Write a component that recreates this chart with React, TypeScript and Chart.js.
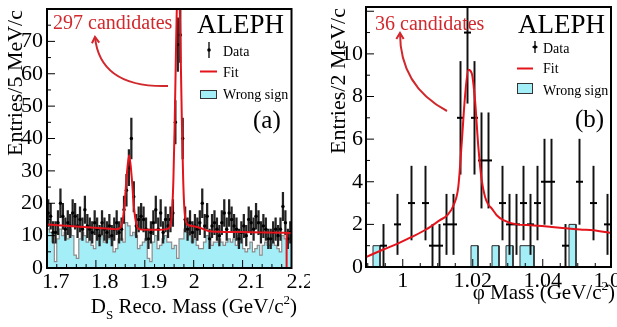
import React, { useEffect, useRef } from 'react';
import { Chart, registerables } from 'chart.js';

Chart.register(...registerables);

// ---------------- Panel (a): D_s reconstructed mass ----------------
const dsMassMin = 1.7;
const dsMassMax = 2.2;
const dsBinWidth = 0.005;
const dsCounts = [
  17, 16, 11, 11, 14, 20, 16, 12, 14, 13,
  17, 16, 13, 15, 12, 18, 13, 12, 11, 14,
  12, 10, 14, 12, 11, 13, 10, 12, 14, 11,
  12, 18, 24, 31, 40, 22, 13, 15, 16, 15,
  12, 9, 11, 14, 18, 12, 17, 11, 15, 13,
  15, 17, 45, 69, 72, 40, 15, 12, 14, 11,
  13, 12, 14, 20, 13, 16, 9, 13, 14, 12,
  10, 14, 17, 12, 17, 15, 13, 12, 9, 11,
  13, 10, 15, 14, 12, 16, 14, 11, 13, 12,
  9, 9, 11, 12, 10, 12, 19, 14, 9, 11,
];
const dsWrongSign = [
  12, 11, 8, 2, 9, 12, 10, 11, 9, 12,
  10, 4, 3, 9, 11, 10, 8, 13, 7, 6,
  11, 9, 10, 8, 10, 9, 10, 5, 6, 9,
  9, 8, 14, 13, 10, 11, 10, 6, 7, 8,
  9, 3, 2, 8, 10, 6, 7, 9, 10, 8,
  8, 6, 7, 3, 9, 9, 12, 11, 10, 8,
  9, 7, 6, 6, 8, 10, 9, 7, 8, 8,
  9, 8, 7, 8, 9, 8, 9, 7, 10, 9,
  6, 5, 6, 8, 5, 6, 7, 4, 7, 8,
  7, 7, 8, 7, 6, 5, 10, 9, 10, 9,
];
const dsFitMass = [
  1.7, 1.73, 1.76, 1.79, 1.82, 1.84, 1.848, 1.853, 1.858, 1.863, 1.868, 1.873, 1.878, 1.883, 1.888,
  1.9, 1.93, 1.945, 1.95, 1.9535, 1.956, 1.9585, 1.961, 1.9635, 1.966, 1.9685, 1.971, 1.9735,
  1.976, 1.9785, 1.981, 1.9835, 1.986, 1.99, 2.0, 2.01, 2.02, 2.03, 2.05, 2.1, 2.15, 2.2,
];
const dsFitValue = [
  13.4, 13.1, 12.8, 12.5, 12.2, 12.0, 12.2, 13.4, 18.5, 28.5, 34.8, 28.5, 18.5, 13.4, 12.0,
  11.8, 11.8, 12.0, 12.4, 14.0, 18.1, 27.3, 43.6, 65, 84.2, 92, 84.2, 65,
  43.6, 27.3, 18.1, 14.8, 13.6, 13.2, 12.9, 12.5, 12.0, 11.4, 11.2, 11.1, 11.0, 10.8,
];
const dsFitEndMass = [2.19, 2.19];
const dsFitEndValue = [0, 10.7];
const dsXTicks = [1.7, 1.8, 1.9, 2.0, 2.1, 2.2];
const dsYTicks = [0, 10, 20, 30, 40, 50, 60, 70];
const dsYMax = 80;

// ---------------- Panel (b): phi mass ----------------
const phiMassMin = 0.9895;
const phiMassMax = 1.0595;
const phiBinWidth = 0.002;
const phiCounts = [
  0, 0, 1, 0, 2, 0, 3, 0, 3, 1,
  1, 2, 2, 7, 11, 7, 5, 5, 0, 3,
  2, 2, 3, 2, 3, 4, 4, 0, 1, 0,
  4, 0, 3, 0, 2,
];
const phiWrongSign = [
  0, 1, 0, 0, 0, 0, 0, 0, 0, 0,
  0, 0, 0, 0, 0, 1, 0, 0, 1, 0,
  1, 0, 1, 1, 0, 0, 0, 0, 0, 2,
  0, 0, 0, 0, 0,
];
const phiFitMass = [
  0.9895, 0.99444, 0.99856, 1.00256, 1.00664, 1.01064, 1.01273, 1.01473, 1.01587, 1.01684,
  1.01779, 1.01873, 1.0197, 1.02064, 1.02159, 1.02256, 1.0235, 1.02436, 1.02541, 1.02684,
  1.02873, 1.03256, 1.03656, 1.04256, 1.04664, 1.05064, 1.05444, 1.0595,
];
const phiFitValue = [
  0.47, 0.82, 1.1, 1.41, 1.76, 2.2, 2.43, 2.98, 3.76, 5.8,
  8.0, 9.25, 9.1, 7.84, 5.65, 4.08, 3.3, 2.95, 2.75, 2.43,
  2.2, 2.0, 1.96, 1.88, 1.82, 1.76, 1.73, 1.6,
];
const phiXTicks = [1.0, 1.02, 1.04, 1.06];
const phiYTicks = [0, 2, 4, 6, 8, 10];
const phiYMax = 12.2;

// ---------------- styling ----------------
const FONT = "'Liberation Serif', 'Times New Roman', Times, serif";
const RED = '#e3141b';
const TEXT_RED = '#d0282c';
const CYAN = '#a4eef8';

type Seg = { t: string; sub?: boolean; sup?: boolean };

interface Panel {
  left: number; width: number; height: number;
  area: { left: number; top: number; right: number; bottom: number };
  massMin: number; massMax: number; binWidth: number;
  counts: number[]; wrongSign: number[];
  fitMass: number[]; fitValue: number[];
  endMass?: number[]; endValue?: number[];
  xTicks: number[]; yTicks: number[]; yMax: number;
  xMajor: number; xMinor: number; yMajor: number; yMinor: number;
  xAlign: 'start' | 'center'; xLabelOffset: number; xLabelPad: number; yLabelPad: number;
  histBorder: string; histBorderWidth: number;
  errColor: string; errWidth: number;
  markerStyle: string; markerRadius: number; markerBorder: number;
  yTitle: string; yTitleX: number; yTitleTop: number;
  xTitle: Seg[]; xTitleRight: number; xTitleBase: number;
  aleph: { x: number; y: number };
  legend: { symX: number; textX: number; dataY: number; dataSymTop: number; dataSymBot: number; fitY: number; fitLineY: number; boxTop: number; boxBot: number; wsY: number; lineL: number; lineR: number; dash: number };
  tag: string; tagPos: { x: number; y: number };
  cand: string; candPos: { x: number; y: number };
  arrow: { sx: number; sy: number; cx: number; cy: number; ex: number; ey: number };
}

const panelA: Panel = {
  left: 0, width: 310, height: 327,
  area: { left: 47, top: 9, right: 291.5, bottom: 268 },
  massMin: dsMassMin, massMax: dsMassMax, binWidth: dsBinWidth,
  counts: dsCounts, wrongSign: dsWrongSign, fitMass: dsFitMass, fitValue: dsFitValue,
  endMass: dsFitEndMass, endValue: dsFitEndValue,
  xTicks: dsXTicks, yTicks: dsYTicks, yMax: dsYMax,
  xMajor: 0.1, xMinor: 0.02, yMajor: 10, yMinor: 5,
  xAlign: 'start', xLabelOffset: -5, xLabelPad: 1, yLabelPad: 4,
  histBorder: '#8c8c8c', histBorderWidth: 1.2,
  errColor: '#222', errWidth: 1.6,
  markerStyle: 'circle', markerRadius: 1.7, markerBorder: 0,
  yTitle: 'Entries/5 MeV/c', yTitleX: 22, yTitleTop: 10,
  xTitle: [{ t: 'D' }, { t: 'S', sub: true }, { t: ' Reco. Mass (GeV/c' }, { t: '2', sup: true }, { t: ')' }],
  xTitleRight: 297, xTitleBase: 313,
  aleph: { x: 197, y: 33 },
  legend: { symX: 209, textX: 223, dataY: 56, dataSymTop: 42, dataSymBot: 58, fitY: 77, fitLineY: 71.5, boxTop: 90, boxBot: 99, wsY: 99, lineL: 200, lineR: 217, dash: 0 },
  tag: '(a)', tagPos: { x: 253, y: 128 },
  cand: '297 candidates', candPos: { x: 53, y: 29 },
  arrow: { sx: 168, sy: 86, cx: 100, cy: 88, ex: 95, ey: 37 },
};

const panelB: Panel = {
  left: 310, width: 307, height: 327,
  area: { left: 56, top: 7, right: 301, bottom: 267 },
  massMin: phiMassMin, massMax: phiMassMax, binWidth: phiBinWidth,
  counts: phiCounts, wrongSign: phiWrongSign, fitMass: phiFitMass, fitValue: phiFitValue,
  xTicks: phiXTicks, yTicks: phiYTicks, yMax: phiYMax,
  xMajor: 0.02, xMinor: 0.005, yMajor: 2, yMinor: 1,
  xAlign: 'center', xLabelOffset: 0, xLabelPad: 1, yLabelPad: 3,
  histBorder: '#2a2a2a', histBorderWidth: 1,
  errColor: '#111', errWidth: 1.3,
  markerStyle: 'line', markerRadius: 3.5, markerBorder: 2,
  yTitle: 'Entries/2 MeV/c', yTitleX: 35, yTitleTop: 8,
  xTitle: [{ t: '\u03c6 Mass (GeV/c' }, { t: '2', sup: true }, { t: ')' }],
  xTitleRight: 305, xTitleBase: 299,
  aleph: { x: 208, y: 33 },
  legend: { symX: 225, textX: 233, dataY: 53, dataSymTop: 41, dataSymBot: 53, fitY: 73, fitLineY: 68.5, boxTop: 83, boxBot: 94, wsY: 94.5, lineL: 207, lineR: 223, dash: 2.5 },
  tag: '(b)', tagPos: { x: 265, y: 127 },
  cand: '36 candidates', candPos: { x: 65, y: 30 },
  arrow: { sx: 137, sy: 111, cx: 90, cy: 86, ex: 90, ey: 33 },
};

function near(v: number, step: number) {
  const r = v / step;
  return Math.abs(r - Math.round(r)) < 1e-6;
}

function drawRich(ctx: CanvasRenderingContext2D, segs: Seg[], size: number, xRight: number, base: number) {
  const fontFor = (s: Seg) => `${s.sub || s.sup ? Math.round(size * 0.62) : size}px ${FONT}`;
  let total = 0;
  segs.forEach((s) => { ctx.font = fontFor(s); total += ctx.measureText(s.t).width; });
  let x = xRight - total;
  ctx.textAlign = 'left';
  ctx.textBaseline = 'alphabetic';
  segs.forEach((s) => {
    ctx.font = fontFor(s);
    const dy = s.sub ? size * 0.3 : s.sup ? -size * 0.45 : 0;
    ctx.fillText(s.t, x, base + dy);
    x += ctx.measureText(s.t).width;
  });
}

function decorPlugin(p: Panel) {
  return {
    id: 'decor',
    afterDatasetsDraw(chart: any) {
      const { ctx, chartArea: a, scales } = chart;
      const xs = scales.x, ys = scales.y;
      ctx.save();
      ctx.strokeStyle = '#000';
      ctx.lineWidth = 1;
      ctx.beginPath();
      const yN = Math.round(p.yMax / p.yMinor);
      for (let i = 0; i <= yN; i++) {
        const v = i * p.yMinor;
        if (v > p.yMax + 1e-9) break;
        const py = ys.getPixelForValue(v);
        const len = near(v, p.yMajor) ? 8 : 4;
        ctx.moveTo(a.left, py);
        ctx.lineTo(a.left + len, py);
      }
      const start = Math.ceil(p.massMin / p.xMinor - 1e-9) * p.xMinor;
      for (let i = 0; ; i++) {
        const v = start + i * p.xMinor;
        if (v > p.massMax + 1e-9) break;
        const px = xs.getPixelForValue(v);
        const len = near(v, p.xMajor) ? 8 : 4;
        ctx.moveTo(px, a.bottom);
        ctx.lineTo(px, a.bottom - len);
      }
      ctx.stroke();
      ctx.lineWidth = 2;
      ctx.strokeRect(a.left, a.top, a.right - a.left, a.bottom - a.top);
      ctx.restore();
    },
    afterDraw(chart: any) {
      const { ctx } = chart;
      ctx.save();
      ctx.fillStyle = '#000';
      // y title
      ctx.save();
      ctx.translate(p.yTitleX, p.yTitleTop);
      ctx.rotate(-Math.PI / 2);
      ctx.font = `22px ${FONT}`;
      ctx.textAlign = 'right';
      ctx.textBaseline = 'alphabetic';
      ctx.fillText(p.yTitle, 0, 0);
      ctx.restore();
      // x title
      drawRich(ctx, p.xTitle, 21, p.xTitleRight, p.xTitleBase);
      // ALEPH
      ctx.textAlign = 'left';
      ctx.textBaseline = 'alphabetic';
      ctx.font = `27px ${FONT}`;
      ctx.fillText('ALEPH', p.aleph.x, p.aleph.y);
      // legend
      const L = p.legend;
      ctx.font = `14px ${FONT}`;
      ctx.fillText('Data', L.textX, L.dataY);
      ctx.fillText('Fit', L.textX, L.fitY);
      ctx.fillText('Wrong sign', L.textX, L.wsY);
      ctx.strokeStyle = '#000';
      ctx.lineWidth = 1.3;
      ctx.beginPath();
      ctx.moveTo(L.symX, L.dataSymTop);
      ctx.lineTo(L.symX, L.dataSymBot);
      const my = (L.dataSymTop + L.dataSymBot) / 2;
      if (L.dash > 0) {
        ctx.moveTo(L.symX - L.dash, my);
        ctx.lineTo(L.symX + L.dash, my);
      }
      ctx.stroke();
      ctx.beginPath();
      ctx.arc(L.symX, my, 1.8, 0, Math.PI * 2);
      ctx.fill();
      ctx.strokeStyle = RED;
      ctx.lineWidth = 2;
      ctx.beginPath();
      ctx.moveTo(L.lineL, L.fitLineY);
      ctx.lineTo(L.lineR, L.fitLineY);
      ctx.stroke();
      ctx.fillStyle = CYAN;
      ctx.fillRect(L.lineL, L.boxTop, L.lineR - L.lineL, L.boxBot - L.boxTop);
      ctx.strokeStyle = '#333';
      ctx.lineWidth = 1;
      ctx.strokeRect(L.lineL + 0.5, L.boxTop + 0.5, L.lineR - L.lineL - 1, L.boxBot - L.boxTop - 1);
      // tag
      ctx.fillStyle = '#000';
      ctx.font = `25px ${FONT}`;
      ctx.fillText(p.tag, p.tagPos.x, p.tagPos.y);
      // candidates + arrow
      ctx.fillStyle = TEXT_RED;
      ctx.font = `20px ${FONT}`;
      ctx.fillText(p.cand, p.candPos.x, p.candPos.y);
      const ar = p.arrow;
      ctx.strokeStyle = TEXT_RED;
      ctx.lineWidth = 2;
      ctx.beginPath();
      ctx.moveTo(ar.sx, ar.sy);
      ctx.quadraticCurveTo(ar.cx, ar.cy, ar.ex, ar.ey);
      ctx.stroke();
      const ang = Math.atan2(ar.ey - ar.cy, ar.ex - ar.cx);
      const hl = 7;
      ctx.beginPath();
      ctx.moveTo(ar.ex - hl * Math.cos(ang - 0.55), ar.ey - hl * Math.sin(ang - 0.55));
      ctx.lineTo(ar.ex, ar.ey);
      ctx.lineTo(ar.ex - hl * Math.cos(ang + 0.55), ar.ey - hl * Math.sin(ang + 0.55));
      ctx.stroke();
      ctx.restore();
    },
  };
}

function buildChart(canvas: HTMLCanvasElement, p: Panel) {
  const pts: { x: number; y: number }[] = [];
  const errs: { x: number; y: number[] }[] = [];
  p.counts.forEach((n, i) => {
    if (n <= 0) return;
    const c = p.massMin + (i + 0.5) * p.binWidth;
    const e = Math.sqrt(n);
    pts.push({ x: c, y: n });
    errs.push({ x: c, y: [Math.max(0, n - e), n + e] });
  });
  const hist: { x: number; y: number }[] = [];
  p.wrongSign.forEach((v, i) => {
    const x0 = p.massMin + i * p.binWidth;
    hist.push({ x: x0, y: v }, { x: x0 + p.binWidth, y: v });
  });
  const fit = p.fitMass.map((m, i) => ({ x: m, y: p.fitValue[i] }));
  const datasets: any[] = [
    {
      type: 'line', label: 'Wrong sign', data: hist, showLine: true,
      borderColor: p.histBorder, borderWidth: p.histBorderWidth, backgroundColor: CYAN,
      fill: 'origin', pointRadius: 0, tension: 0, order: 6,
    },
    {
      type: 'bar', label: 'errors', data: errs, backgroundColor: p.errColor,
      borderWidth: 0, barThickness: p.errWidth, grouped: false, order: 4,
    },
    {
      type: 'scatter', label: 'Data', data: pts, pointStyle: p.markerStyle,
      pointRadius: p.markerRadius, backgroundColor: '#000', borderColor: '#000',
      borderWidth: p.markerBorder, order: 3,
    },
    {
      type: 'line', label: 'Fit', data: fit, showLine: true, borderColor: RED, borderWidth: 2,
      pointRadius: 0, tension: 0.4, cubicInterpolationMode: 'monotone', fill: false, order: 1,
    },
  ];
  if (p.endMass && p.endValue) {
    datasets.push({
      type: 'line', label: 'Fit end', data: p.endMass.map((m, i) => ({ x: m, y: p.endValue![i] })),
      showLine: true, borderColor: RED, borderWidth: 2, pointRadius: 0, tension: 0, fill: false, order: 2,
    });
  }
  const tickFont = { family: FONT, size: 22 };
  return new Chart(canvas, {
    type: 'scatter',
    data: { datasets },
    plugins: [decorPlugin(p)],
    options: {
      animation: false,
      responsive: false,
      devicePixelRatio: 1,
      events: [],
      layout: { padding: { left: 0, top: p.area.top, right: p.width - p.area.right, bottom: 0 } },
      plugins: { legend: { display: false }, tooltip: { enabled: false } },
      scales: {
        x: {
          type: 'linear', min: p.massMin, max: p.massMax, offset: false,
          grid: { display: false, drawTicks: false }, border: { display: false },
          afterBuildTicks: (s: any) => { s.ticks = p.xTicks.map((v) => ({ value: v })); },
          afterFit: (s: any) => { s.height = p.height - p.area.bottom; s.paddingLeft = 0; s.paddingRight = 0; },
          ticks: {
            font: tickFont, color: '#000', padding: p.xLabelPad, align: p.xAlign,
            labelOffset: p.xLabelOffset, maxRotation: 0, minRotation: 0, autoSkip: false,
            callback: (v: any) => String(Number(v)),
          },
        },
        y: {
          type: 'linear', min: 0, max: p.yMax,
          grid: { display: false, drawTicks: false }, border: { display: false },
          afterBuildTicks: (s: any) => { s.ticks = p.yTicks.map((v) => ({ value: v })); },
          afterFit: (s: any) => { s.width = p.area.left; s.paddingTop = 0; s.paddingBottom = 0; },
          ticks: {
            font: tickFont, color: '#000', padding: p.yLabelPad, autoSkip: false,
            callback: (v: any) => String(Number(v)),
          },
        },
      },
    } as any,
  });
}

function PanelChart({ p }: { p: Panel }) {
  const ref = useRef<HTMLCanvasElement>(null);
  useEffect(() => {
    if (!ref.current) return;
    const chart = buildChart(ref.current, p);
    return () => chart.destroy();
  }, [p]);
  return (
    <canvas
      ref={ref}
      width={p.width}
      height={p.height}
      style={{ position: 'absolute', left: p.left, top: 0, width: p.width, height: p.height }}
    />
  );
}

export default function App() {
  return (
    <div style={{ position: 'fixed', left: 0, top: 0, width: 617, height: 327, background: '#fff', overflow: 'hidden' }}>
      <PanelChart p={panelA} />
      <PanelChart p={panelB} />
    </div>
  );
}
